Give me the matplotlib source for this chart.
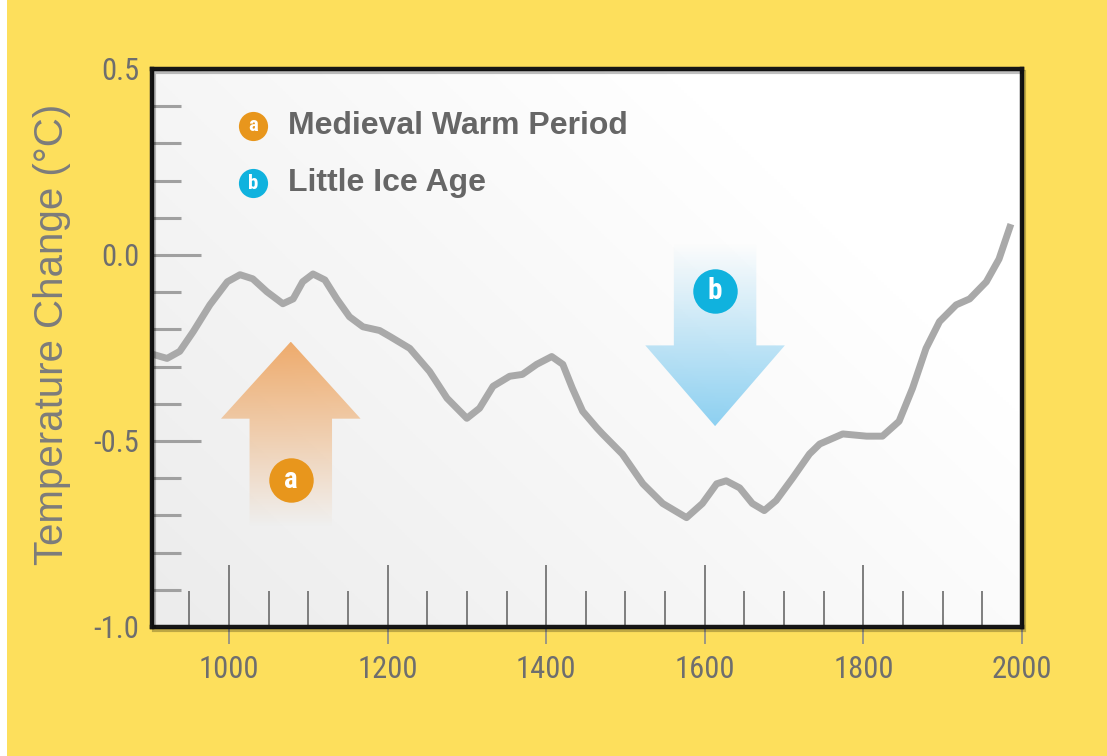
import numpy as np
import matplotlib
matplotlib.use("Agg")
import matplotlib.pyplot as plt
from matplotlib.patches import Polygon, Rectangle

# ---------- Data ----------
years = [904, 922, 938, 955, 976, 998, 1014, 1030, 1048, 1068, 1081, 1093, 1106,
         1121, 1136, 1152, 1169, 1190, 1203, 1228, 1253, 1275, 1300, 1316, 1333,
         1354, 1370, 1388, 1407, 1421, 1433, 1446, 1464, 1471, 1496, 1522, 1547,
         1577, 1597, 1615, 1627, 1644, 1660, 1675, 1690, 1711, 1732, 1745, 1774,
         1804, 1824, 1845, 1862, 1879, 1896, 1917, 1934, 1955, 1971, 1986]
temps = [-0.267, -0.278, -0.259, -0.206, -0.134, -0.072, -0.053, -0.064, -0.099, -0.131, -0.118, -0.072, -0.051,
         -0.067, -0.118, -0.166, -0.193, -0.203, -0.219, -0.251, -0.313, -0.385, -0.439, -0.412, -0.353,
         -0.326, -0.321, -0.294, -0.273, -0.294, -0.358, -0.420, -0.465, -0.481, -0.535, -0.615, -0.668,
         -0.706, -0.668, -0.615, -0.607, -0.626, -0.668, -0.687, -0.660, -0.599, -0.535, -0.508, -0.481,
         -0.487, -0.487, -0.447, -0.358, -0.251, -0.179, -0.134, -0.118, -0.072, -0.011, 0.083]

x_major = [1000, 1200, 1400, 1600, 1800, 2000]
x_minor = [950, 1050, 1100, 1150, 1250, 1300, 1350, 1450, 1500, 1550,
           1650, 1700, 1750, 1850, 1900, 1950]
y_major = [-1.0, -0.5, 0.0, 0.5]
y_minor = [-0.9, -0.8, -0.7, -0.6, -0.4, -0.3, -0.2, -0.1, 0.1, 0.2, 0.3, 0.4]

legend_labels = ["Medieval Warm Period", "Little Ice Age"]
legend_letters = ["a", "b"]
legend_colors = ["#E8961C", "#10B2DE"]
legend_vals = [0.347, 0.193]

# arrow annotations: (center year, tip value, head base value, tail value)
arrow_a = (1078, -0.233, -0.44, -0.73)
arrow_b = (1613, -0.46, -0.243, 0.03)
circle_a = (1078, -0.604)
circle_b = (1613, -0.096)

BG = "#FDDF5C"
TXT = "#6E6E6E"
NARROW = ["Roboto Condensed", "Archivo Narrow", "PT Sans Narrow",
          "Fira Sans Condensed", "Barlow Condensed", "DejaVu Sans"]
REG = ["Liberation Sans", "DejaVu Sans"]

fig = plt.figure(figsize=(11.07, 7.56), dpi=100, facecolor=BG)
W, H = 1107, 756
L, R, T, B = 152, 1022, 69, 627
ax = fig.add_axes([L / W, 1 - B / H, (R - L) / W, (B - T) / H])

# subtle shadow behind the frame
fig.patches.append(Rectangle(((L + 2) / W, 1 - (B + 3) / H), (R - L) / W, (B - T) / H,
                             transform=fig.transFigure, fill=False,
                             edgecolor=(0, 0, 0, 0.25), lw=3, zorder=0))
# white strip on the far left edge
fig.patches.append(Rectangle((0, 0), 7 / W, 1, transform=fig.transFigure,
                             facecolor="white", edgecolor="none", zorder=0))

# background gradient: light grey bottom-left to white top-right
gx, gy = np.meshgrid(np.linspace(0, 1, 300), np.linspace(0, 1, 200))
g = np.clip((gx * 1.2 + gy * 0.8) / 1.5, 0, 1)
gray = 0.925 + 0.075 * g
img = np.dstack([gray, gray, gray])
ax.imshow(img, extent=[0, 1, 0, 1], transform=ax.transAxes, origin="lower",
          aspect="auto", zorder=0)


def gradient_arrow(ax, spec, half_head, half_shaft, rgb, alpha_low, alpha_high):
    # alpha_low at the lowest value of the arrow, alpha_high at the highest
    cx, tip, base, tail = spec
    pts = [(cx, tip), (cx + half_head, base), (cx + half_shaft, base),
           (cx + half_shaft, tail), (cx - half_shaft, tail), (cx - half_shaft, base),
           (cx - half_head, base)]
    poly = Polygon(pts, closed=True, facecolor="none", edgecolor="none")
    ax.add_patch(poly)
    lo, hi = min(tip, tail), max(tip, tail)
    n = 200
    a = np.linspace(0, 1, n)[:, None]
    rgba = np.zeros((n, 2, 4))
    rgba[..., :3] = rgb
    rgba[..., 3] = alpha_low + (alpha_high - alpha_low) * a
    im = ax.imshow(rgba, extent=[cx - half_head, cx + half_head, lo, hi],
                   origin="lower", aspect="auto", zorder=2, interpolation="bilinear")
    im.set_clip_path(poly)


gradient_arrow(ax, arrow_a, 88, 52, (0.93, 0.62, 0.33), 0.0, 0.85)
gradient_arrow(ax, arrow_b, 88, 52, (0.45, 0.78, 0.94), 0.8, 0.0)

for (cx, cy), let, col in zip([circle_a, circle_b], legend_letters, legend_colors):
    ax.plot(cx, cy, "o", ms=32, color=col, mec="none", zorder=4)
    ax.text(cx, cy, let, color="white", fontsize=21, fontweight="bold",
            ha="center", va="center", family=NARROW, zorder=5)

# temperature curve
ax.plot(years, temps, color="#A9A9A9", lw=5, solid_capstyle="butt",
        solid_joinstyle="round", zorder=3)

# legend
for lab, let, col, yy in zip(legend_labels, legend_letters, legend_colors, legend_vals):
    ax.plot(1030, yy, "o", ms=21, color=col, mec="none", zorder=4)
    ax.text(1030, yy, let, color="white", fontsize=15, fontweight="bold",
            ha="center", va="center", family=NARROW, zorder=5)
    ax.text(1074, yy, lab, color="#666666", fontsize=23, fontweight="bold",
            ha="left", va="center", family=REG, zorder=5)

ax.set_xlim(903, 2000)
ax.set_ylim(-1.0, 0.5)

ax.set_xticks(x_major)
ax.set_xticks(x_minor, minor=True)
ax.set_yticks(y_major)
ax.set_yticks(y_minor, minor=True)
ax.set_xticklabels([str(v) for v in x_major])
ax.set_yticklabels([f"{v:.1f}" for v in y_major])

ax.tick_params(axis="x", which="major", direction="in", length=45, width=1.2,
               color="#6A6A6A", pad=20, labelsize=22, labelcolor=TXT)
ax.tick_params(axis="x", which="minor", direction="in", length=26, width=1.2,
               color="#6A6A6A")
ax.tick_params(axis="y", which="major", direction="in", length=35, width=2.2,
               color="#A0A0A0", pad=9, labelsize=22, labelcolor=TXT)
ax.tick_params(axis="y", which="minor", direction="in", length=21, width=2.2,
               color="#A0A0A0")
for lab in ax.get_xticklabels() + ax.get_yticklabels():
    lab.set_family(NARROW)

# outer part of the major x ticks
sec = ax.secondary_xaxis("bottom")
sec.set_xticks(x_major)
sec.set_xticklabels([])
sec.tick_params(axis="x", which="major", direction="out", length=12, width=1.2,
                color="#8A8A8A")
sec.tick_params(axis="x", which="minor", bottom=False)
sec.spines["bottom"].set_visible(False)

for sp in ax.spines.values():
    sp.set_linewidth(3.2)
    sp.set_color("#161616")
    sp.set_zorder(6)

ax.set_ylabel("Temperature Change (°C)", fontsize=29, color="#7C7C7C",
              family=REG, va="center")
ax.yaxis.set_label_coords(-0.115, 0.524)

fig.savefig("out.png", dpi=100, facecolor=BG)
